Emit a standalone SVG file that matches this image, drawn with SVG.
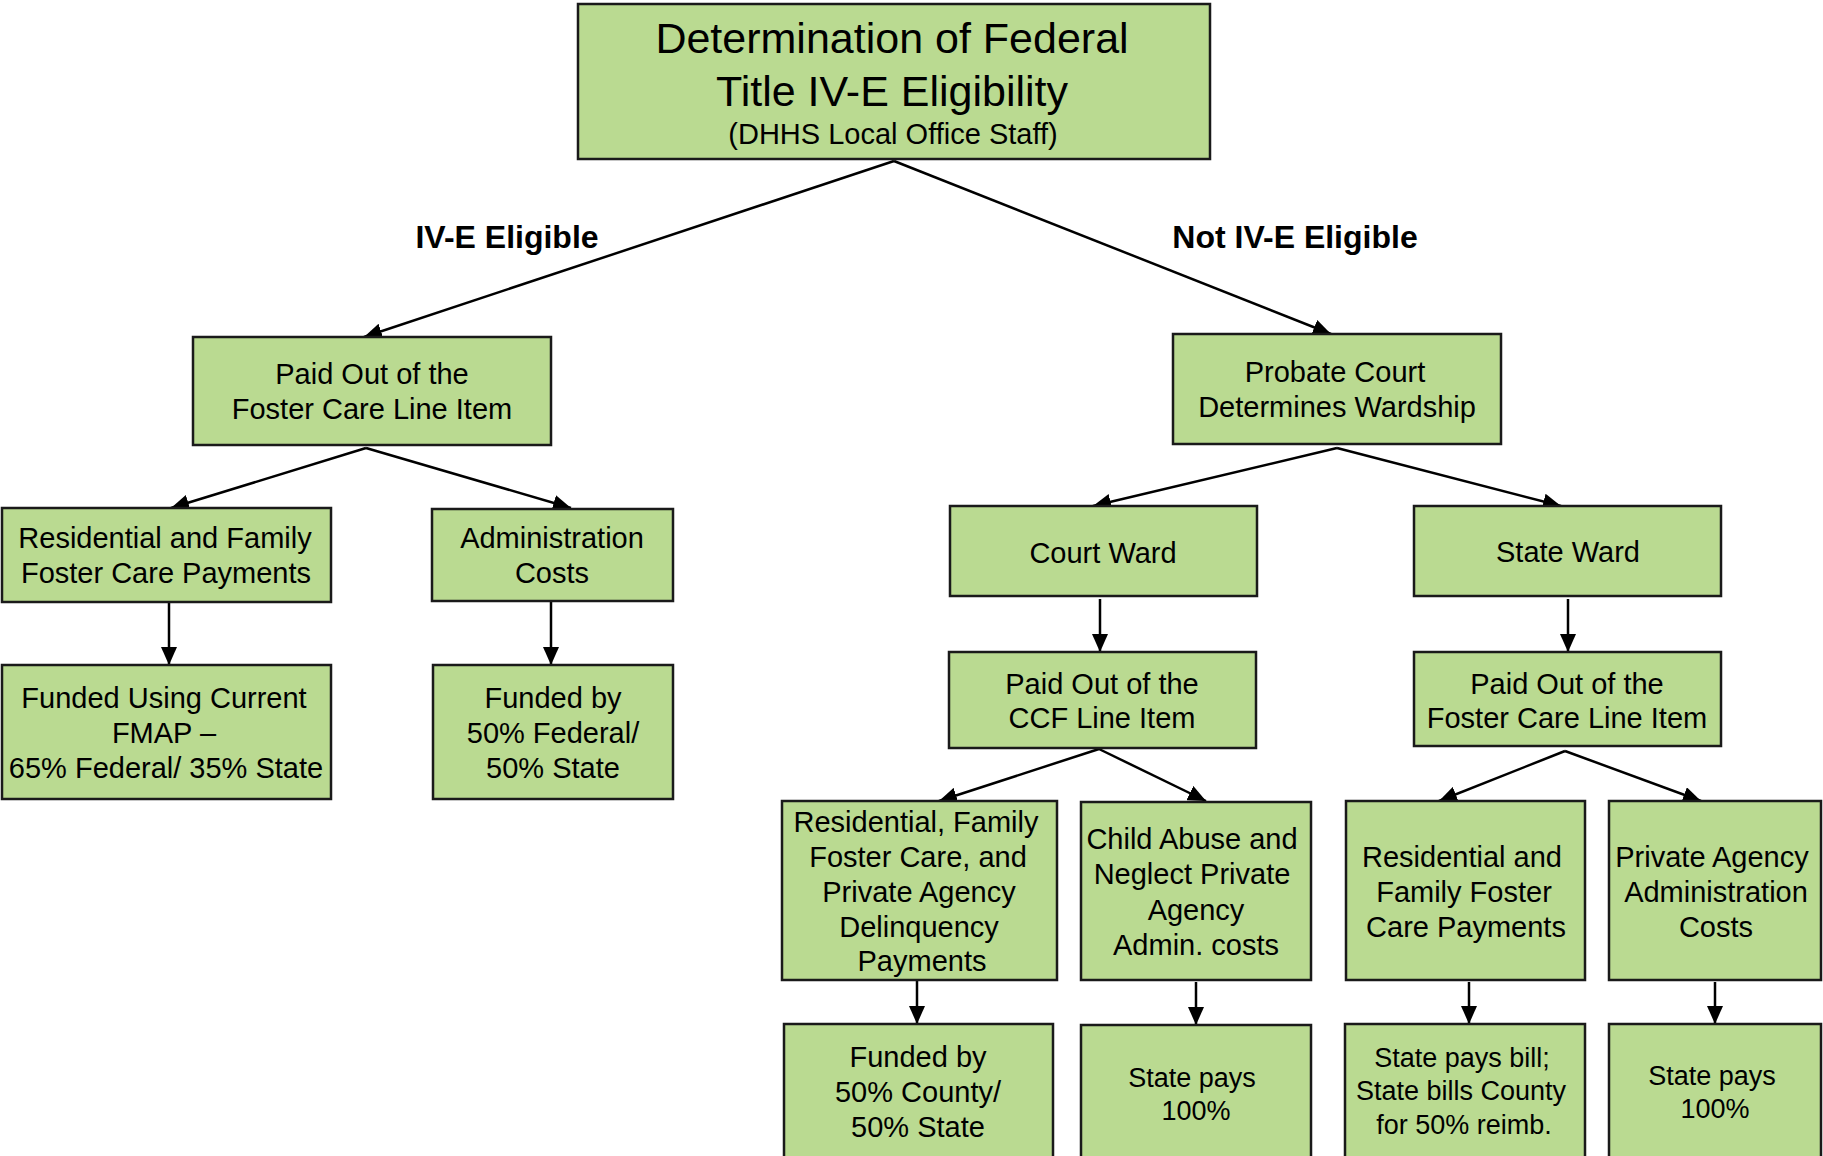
<svg xmlns="http://www.w3.org/2000/svg" width="1823" height="1156" viewBox="0 0 1823 1156">
<style>
.box{fill:#BADA91;stroke:#1a1a1a;stroke-width:2.5}
.t{font-family:"Liberation Sans",Arial,sans-serif;font-size:29px;fill:#000;text-anchor:middle}
.s{font-size:27px}
.big{font-size:43px}
.lbl{font-family:"Liberation Sans",Arial,sans-serif;font-size:32px;font-weight:bold;fill:#000;text-anchor:middle}
.c{stroke:#000;stroke-width:2.5;fill:none;marker-end:url(#ah)}
</style>
<defs>
<marker id="ah" markerUnits="userSpaceOnUse" markerWidth="18" markerHeight="16" refX="18" refY="8" orient="auto">
<path d="M0,0 L18,8 L0,16 Z" fill="#000"/>
</marker>
</defs>
<rect width="1823" height="1156" fill="#fff"/>
<g id="connectors">
<line class="c" x1="894" y1="161" x2="364" y2="337"/>
<line class="c" x1="894" y1="161" x2="1331" y2="334"/>
<line class="c" x1="366" y1="448" x2="171" y2="508"/>
<line class="c" x1="366" y1="448" x2="571" y2="508"/>
<line class="c" x1="1337" y1="448" x2="1093" y2="506"/>
<line class="c" x1="1337" y1="448" x2="1561" y2="506"/>
<line class="c" x1="169" y1="603" x2="169" y2="665"/>
<line class="c" x1="551" y1="602" x2="551" y2="665"/>
<line class="c" x1="1100" y1="599" x2="1100" y2="652"/>
<line class="c" x1="1568" y1="599" x2="1568" y2="652"/>
<line class="c" x1="1099" y1="749" x2="939" y2="801"/>
<line class="c" x1="1099" y1="749" x2="1206" y2="801"/>
<line class="c" x1="1565" y1="751" x2="1439" y2="801"/>
<line class="c" x1="1565" y1="751" x2="1701" y2="801"/>
<line class="c" x1="917" y1="981" x2="917" y2="1024"/>
<line class="c" x1="1196" y1="982" x2="1196" y2="1025"/>
<line class="c" x1="1469" y1="982" x2="1469" y2="1024"/>
<line class="c" x1="1715" y1="982" x2="1715" y2="1024"/>
</g>
<g id="edge-labels">
<text class="lbl" x="507" y="248">IV-E Eligible</text>
<text class="lbl" x="1295" y="248">Not IV-E Eligible</text>
</g>
<g id="n-root">
<rect class="box" x="578" y="4" width="632" height="155"/>
<text class="t big" x="892" y="53">Determination of Federal</text>
<text class="t big" x="892" y="106">Title IV-E Eligibility</text>
<text class="t" x="893" y="144">(DHHS Local Office Staff)</text>
</g>
<g id="n-paid-fc-left">
<rect class="box" x="193" y="337" width="358" height="108"/>
<text class="t" x="372" y="384">Paid Out of the</text>
<text class="t" x="372" y="419">Foster Care Line Item</text>
</g>
<g id="n-probate">
<rect class="box" x="1173" y="334" width="328" height="110"/>
<text class="t" x="1335" y="382">Probate Court</text>
<text class="t" x="1337" y="417">Determines Wardship</text>
</g>
<g id="n-res-fam-left">
<rect class="box" x="2" y="508" width="329" height="94"/>
<text class="t" x="165" y="548">Residential and Family</text>
<text class="t" x="166" y="583">Foster Care Payments</text>
</g>
<g id="n-admin">
<rect class="box" x="432" y="509" width="241" height="92"/>
<text class="t" x="552" y="548">Administration</text>
<text class="t" x="552" y="583">Costs</text>
</g>
<g id="n-fmap">
<rect class="box" x="2" y="665" width="329" height="134"/>
<text class="t" x="164" y="708">Funded Using Current</text>
<text class="t" x="164" y="743">FMAP –</text>
<text class="t" x="166" y="778">65% Federal/ 35% State</text>
</g>
<g id="n-fed50">
<rect class="box" x="433" y="665" width="240" height="134"/>
<text class="t" x="553" y="708">Funded by</text>
<text class="t" x="553" y="743">50% Federal/</text>
<text class="t" x="553" y="778">50% State</text>
</g>
<g id="n-court-ward">
<rect class="box" x="950" y="506" width="307" height="90"/>
<text class="t" x="1103" y="563">Court Ward</text>
</g>
<g id="n-state-ward">
<rect class="box" x="1414" y="506" width="307" height="90"/>
<text class="t" x="1568" y="562">State Ward</text>
</g>
<g id="n-ccf">
<rect class="box" x="949" y="652" width="307" height="96"/>
<text class="t" x="1102" y="694">Paid Out of the</text>
<text class="t" x="1102" y="728">CCF Line Item</text>
</g>
<g id="n-paid-fc-right">
<rect class="box" x="1414" y="652" width="307" height="94"/>
<text class="t" x="1567" y="694">Paid Out of the</text>
<text class="t" x="1567" y="728">Foster Care Line Item</text>
</g>
<g id="n-res-fam-ccf">
<rect class="box" x="782" y="801" width="275" height="179"/>
<text class="t" x="916" y="832">Residential, Family</text>
<text class="t" x="918" y="867">Foster Care, and</text>
<text class="t" x="919" y="902">Private Agency</text>
<text class="t" x="919" y="937">Delinquency</text>
<text class="t" x="922" y="971">Payments</text>
</g>
<g id="n-child-abuse">
<rect class="box" x="1081" y="802" width="230" height="178"/>
<text class="t" x="1192" y="849">Child Abuse and</text>
<text class="t" x="1192" y="884">Neglect Private</text>
<text class="t" x="1196" y="920">Agency</text>
<text class="t" x="1196" y="955">Admin. costs</text>
</g>
<g id="n-res-fam-right">
<rect class="box" x="1346" y="801" width="239" height="179"/>
<text class="t" x="1462" y="867">Residential and</text>
<text class="t" x="1464" y="902">Family Foster</text>
<text class="t" x="1466" y="937">Care Payments</text>
</g>
<g id="n-private-admin">
<rect class="box" x="1609" y="801" width="212" height="179"/>
<text class="t" x="1712" y="867">Private Agency</text>
<text class="t" x="1716" y="902">Administration</text>
<text class="t" x="1716" y="937">Costs</text>
</g>
<g id="n-county50">
<rect class="box" x="784" y="1024" width="269" height="140"/>
<text class="t" x="918" y="1067">Funded by</text>
<text class="t" x="918" y="1102">50% County/</text>
<text class="t" x="918" y="1137">50% State</text>
</g>
<g id="n-state100-a">
<rect class="box" x="1081" y="1025" width="230" height="140"/>
<text class="t s" x="1192" y="1087">State pays</text>
<text class="t s" x="1196" y="1120">100%</text>
</g>
<g id="n-state-bill">
<rect class="box" x="1345" y="1024" width="240" height="140"/>
<text class="t s" x="1462" y="1067">State pays bill;</text>
<text class="t s" x="1461" y="1100">State bills County</text>
<text class="t s" x="1464" y="1134">for 50% reimb.</text>
</g>
<g id="n-state100-b">
<rect class="box" x="1609" y="1024" width="212" height="140"/>
<text class="t s" x="1712" y="1085">State pays</text>
<text class="t s" x="1715" y="1118">100%</text>
</g>
</svg>
